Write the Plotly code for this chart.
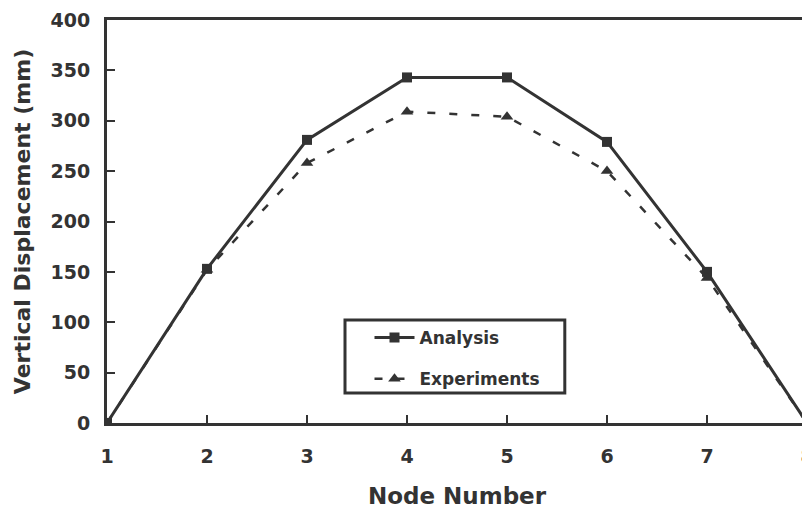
import plotly.graph_objects as go

nodes = [1, 2, 3, 4, 5, 6, 7, 8]
analysis = [0, 153, 281, 343, 343, 279, 150, 0]
experiments = [0, 152, 258, 309, 304, 250, 144, 0]
y_ticks = [0, 50, 100, 150, 200, 250, 300, 350, 400]

ink = "#333333"
font_family = "DejaVu Sans, Liberation Sans, Arial, sans-serif"

fig = go.Figure()
fig.add_trace(go.Scatter(
    x=nodes, y=analysis, name="<b>Analysis</b>", mode="lines+markers",
    legendgroup="a",
    line=dict(color=ink, width=3),
    marker=dict(symbol="square", size=10, color=ink),
))
fig.add_trace(go.Scatter(
    x=nodes, y=experiments, name="<b>Experiments</b>", mode="lines+markers",
    legendgroup="b",
    line=dict(color=ink, width=2.5, dash="8px,14px"),
    marker=dict(symbol="triangle-up", size=11, color=ink),
))

# legend frame
fig.add_shape(type="rect", xref="paper", yref="paper",
              x0=0.34, x1=0.654, y0=0.0744, y1=0.2556,
              line=dict(color=ink, width=3), fillcolor="rgba(0,0,0,0)", layer="above")

fig.update_layout(
    width=810, height=512,
    margin=dict(l=99, r=11, t=12, b=97),
    paper_bgcolor="white", plot_bgcolor="white",
    font=dict(family=font_family, color=ink),
    showlegend=True,
    legend=dict(
        x=0.375, y=0.2556, xanchor="left", yanchor="top",
        borderwidth=0, bgcolor="rgba(0,0,0,0)",
        font=dict(size=17, family=font_family, color=ink),
        itemwidth=40, traceorder="grouped", tracegroupgap=16,
    ),
)
fig.update_xaxes(
    range=[1, 8], tickvals=nodes, ticktext=[f"<b>{n}</b>" for n in nodes],
    showgrid=False, zeroline=False, automargin=False,
    showline=True, linecolor=ink, linewidth=3, mirror=True,
    ticks="inside", ticklen=8, tickwidth=2, tickcolor=ink,
    tickfont=dict(size=19, family=font_family, color=ink),
    ticklabelstandoff=14,
    title=dict(text="<b>Node Number</b>", font=dict(size=23, family=font_family, color=ink), standoff=23),
)
fig.update_yaxes(
    range=[0, 400], tickvals=y_ticks, ticktext=[f"<b>{v}</b>" for v in y_ticks],
    showgrid=False, zeroline=False, automargin=False,
    showline=True, linecolor=ink, linewidth=3, mirror=True,
    ticks="inside", ticklen=8, tickwidth=2, tickcolor=ink,
    tickfont=dict(size=19, family=font_family, color=ink),
    ticklabelstandoff=10,
    title=dict(text="<b>Vertical Displacement (mm)</b>", font=dict(size=22, family=font_family, color=ink), standoff=14),
)

fig.write_html("out.html")
